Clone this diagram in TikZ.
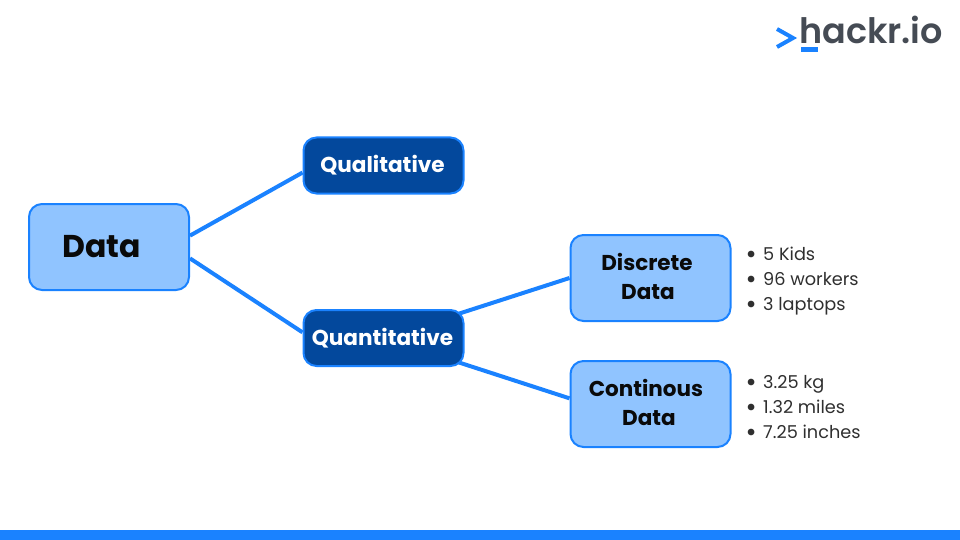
\documentclass[tikz,border=0pt]{standalone}
\usepackage{fontspec}
\setmainfont{Poppins}
\usetikzlibrary{backgrounds}
\definecolor{linkblue}{HTML}{1A82FF}
\definecolor{paleblue}{HTML}{90C4FF}
\definecolor{deepblue}{HTML}{03489C}
\definecolor{logogray}{HTML}{454B54}
\definecolor{inkblack}{HTML}{0A0A0A}
\newcommand{\bul}[1]{\makebox[16pt][l]{\raisebox{-3.2pt}{\fontsize{27}{25}\selectfont\hspace*{-1.5pt}\textbullet}}#1}
\tikzset{
    box/.style={draw=linkblue, line width=2pt, rounded corners=13pt, minimum width=160pt, align=center, font=\bfseries, inner sep=0pt},
    lightbox/.style={box, fill=paleblue, text=inkblack, minimum height=86pt},
    darkbox/.style={box, fill=deepblue, text=white, minimum height=56pt},
    link/.style={draw=linkblue, line width=4pt},
    items/.style={anchor=west, align=left, inner sep=0pt, text=inkblack!85, font=\fontsize{17.7}{25}\selectfont}
}
\begin{document}
\begin{tikzpicture}[x=1pt,y=-1pt]
                \useasboundingbox (0,0) rectangle (960,540);
                \coordinate (D) at (109,247);
                \coordinate (L) at (383.5,165.5);
                \coordinate (N) at (383.5,338);
                \coordinate (S) at (650.5,278);
                \coordinate (C) at (650.5,404);

                \node [lightbox, font=\bfseries\fontsize{31.5}{36}\selectfont] (data) at (D) {\raisebox{1pt}{Data\hspace*{15pt}}};
                \node [darkbox, font=\bfseries\fontsize{21.6}{26}\selectfont] (qual) at (L) {\raisebox{2.5pt}{Qualitative\hspace*{2pt}}};
                \node [darkbox, font=\bfseries\fontsize{21.6}{26}\selectfont] (quant) at (N) {Quantitative\hspace*{2pt}};
                \node [lightbox, font=\bfseries\fontsize{21.5}{29}\selectfont] (discrete) at (S) {\raisebox{2.5pt}{Discrete\hspace*{7pt}}\\\raisebox{2.5pt}{Data\hspace*{5pt}}};
                \node [lightbox, font=\bfseries\fontsize{21.5}{29}\selectfont] (cont) at (C) {\raisebox{2.5pt}{Continous\hspace*{9pt}}\\\raisebox{2.5pt}{Data\hspace*{3pt}}};

                \node [items] (discretelist) at (747,281) {\bul{5 Kids}\\\bul{96 workers}\\\bul{3 laptops}};
                \node [items] (contlist) at (747,408.5) {\bul{3.25 kg}\\\bul{1.32 miles}\\\bul{7.25 inches}};

                \begin{scope}[on background layer]
                \draw[link] (data.8) -- (qual.185);
                \draw[link] (data.-8) -- (quant.176);
                \draw[link] (quant.center) -- (discrete.west);
                \draw[link] (quant.center) -- (cont.176);
                \end{scope}

                % logo and bottom band
                \node [anchor=base west, inner sep=0pt, text=logogray, font=\fontsize{35}{35}\selectfont\fontspec{Poppins SemiBold}] (logo) at (799,44) {hackr.io};
                \draw[linkblue, line width=4pt] (777,29) -- (793,38) -- (777,47);
                \fill[linkblue] (801,47.5) rectangle (818,52);
                \fill[linkblue] (0,530) rectangle (960,540);
                \end{tikzpicture}
\end{document}
